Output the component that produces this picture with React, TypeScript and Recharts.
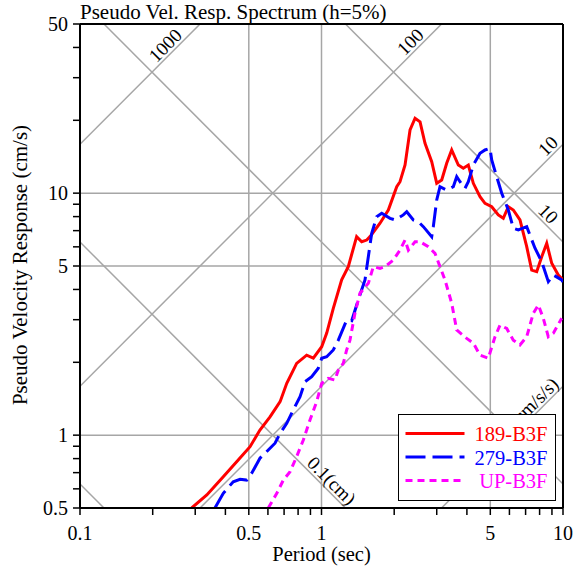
import React from "react";
import {
  LineChart,
  Line,
  XAxis,
  YAxis,
  ReferenceLine,
  ReferenceDot,
  Legend,
  Label,
} from "recharts";

const FONT = '"Liberation Serif", "Times New Roman", serif';

// axis ticks (log scales), labelled ones and grid positions
const periodTicks = [0.1, 0.2, 0.3, 0.4, 0.5, 0.6, 0.7, 0.8, 0.9, 1, 2, 3, 4, 5, 6, 7, 8, 9, 10];
const periodLabels = [0.1, 0.5, 1, 5, 10];
const velTicks = [0.5, 0.6, 0.7, 0.8, 0.9, 1, 2, 3, 4, 5, 6, 7, 8, 9, 10, 20, 30, 40, 50];
const velLabels = [0.5, 1, 5, 10, 50];
const periodGrid = [0.5, 1, 5];
const velGrid = [1, 5, 10];

// tripartite guide lines: displacement (cm) and acceleration (cm/s/s)
const dispLevels = [0.01, 0.1, 1, 10];
const accLevels = [1, 10, 100, 1000];
const dispTags = ["0.1(cm)", "10"];
const dispTagLevels = [0.1, 10];
const dispTagPeriods = [1.033, 8.15];
const accTags = ["1000", "100", "10", "1(cm/s/s)"];
const accTagLevels = [1000, 100, 10, 1];
const accTagPeriods = [0.2404, 2.486, 9.23, 9.9];

// [period (s), pseudo velocity (cm/s)]
const s189: [number, number][] = [
  [0.29, 0.5], [0.335, 0.566], [0.392, 0.673], [0.452, 0.789], [0.506, 0.896],
  [0.556, 1.05], [0.612, 1.19], [0.674, 1.375], [0.718, 1.638], [0.789, 1.98],
  [0.868, 2.14], [0.925, 2.08], [1.002, 2.32], [1.051, 2.64], [1.119, 3.34],
  [1.212, 4.38], [1.291, 4.97], [1.398, 6.61], [1.467, 6.3], [1.539, 6.4],
  [1.588, 6.61], [1.747, 7.51], [1.891, 8.52], [2.049, 10.63], [2.114, 11.15],
  [2.218, 13.07], [2.326, 18.24], [2.44, 20.4], [2.559, 19.7], [2.683, 16.07],
  [2.86, 13.49], [3.0, 10.98], [3.146, 11.33], [3.299, 13.29], [3.46, 15.08],
  [3.686, 13.07], [3.866, 12.67], [4.055, 13.07], [4.253, 10.98], [4.533, 9.67],
  [4.754, 9.08], [5.068, 8.79], [5.397, 8.13], [5.66, 7.87], [5.937, 8.79],
  [6.226, 8.52], [6.636, 7.75], [7.075, 6.01], [7.42, 4.81], [7.784, 4.74],
  [8.164, 5.46], [8.563, 6.21], [8.981, 5.13], [9.562, 4.59], [10.0, 4.38],
];

const s279: [number, number][] = [
  [0.362, 0.5], [0.392, 0.575], [0.431, 0.642], [0.46, 0.657], [0.49, 0.652],
  [0.514, 0.696], [0.556, 0.803], [0.602, 0.868], [0.642, 0.926], [0.674, 1.018],
  [0.718, 1.119], [0.764, 1.271], [0.815, 1.442], [0.855, 1.663], [0.911, 1.744],
  [0.97, 1.89], [1.002, 2.078], [1.051, 2.11], [1.119, 2.25], [1.174, 2.47],
  [1.271, 2.99], [1.334, 2.97], [1.42, 3.62], [1.514, 4.38], [1.614, 6.83],
  [1.693, 7.99], [1.776, 8.26], [1.922, 7.87], [2.016, 7.75], [2.182, 8.13],
  [2.254, 8.38], [2.4, 7.75], [2.518, 7.62], [2.64, 7.27], [2.86, 6.61],
  [2.904, 7.27], [3.0, 9.37], [3.095, 10.63], [3.299, 10.3], [3.514, 10.63],
  [3.63, 11.69], [3.746, 11.15], [3.929, 10.47], [4.055, 11.15], [4.253, 13.07],
  [4.533, 14.61], [4.754, 15.08], [4.986, 15.33], [5.068, 13.71], [5.315, 11.69],
  [5.575, 9.99], [5.937, 8.52], [6.226, 7.16], [6.53, 7.05], [7.075, 7.27],
  [7.658, 5.92], [8.164, 5.21], [8.694, 4.31], [9.119, 4.59], [9.876, 4.38],
  [10.0, 4.29],
];

const sUP: [number, number][] = [
  [0.602, 0.5], [0.653, 0.575], [0.695, 0.652], [0.741, 0.706], [0.789, 0.815],
  [0.841, 0.955], [0.896, 1.155], [0.955, 1.375], [1.002, 1.638], [1.067, 1.718],
  [1.137, 1.69], [1.174, 1.86], [1.231, 1.98], [1.271, 2.25], [1.312, 2.47],
  [1.376, 3.19], [1.443, 3.86], [1.563, 4.24], [1.639, 4.97], [1.747, 4.89],
  [1.833, 4.97], [1.983, 5.29], [2.114, 5.82], [2.218, 6.4], [2.289, 5.82],
  [2.44, 6.3], [2.559, 6.3], [2.769, 6.01], [2.951, 5.64], [3.095, 4.97],
  [3.246, 4.38], [3.46, 3.51], [3.63, 2.72], [3.993, 2.51], [4.253, 2.4],
  [4.533, 2.14], [4.906, 2.08], [5.229, 2.55], [5.485, 2.85], [5.847, 2.76],
  [6.226, 2.47], [6.636, 2.36], [7.075, 2.55], [7.534, 3.19], [7.903, 3.45],
  [8.289, 3.04], [8.694, 2.55], [9.119, 2.64], [9.876, 3.04],
];

const seriesNames = ["189-B3F", "279-B3F", "UP-B3F"];
const seriesData = [s189, s279, sUP];
const seriesColors = ["#ff0000", "#0000ff", "#ff00ff"];
const seriesDash = [undefined, "20 7", "7 5"];

const T_MIN = 0.1, T_MAX = 10, V_MIN = 0.5, V_MAX = 50;
const TWO_PI = 2 * Math.PI;

// V = 2*pi*D / T
function dispSegment(d: number) {
  const c = TWO_PI * d;
  const t1 = Math.max(T_MIN, c / V_MAX);
  const t2 = Math.min(T_MAX, c / V_MIN);
  return [{ x: t1, y: c / t1 }, { x: t2, y: c / t2 }];
}

// V = A * T / (2*pi)
function accSegment(a: number) {
  const c = a / TWO_PI;
  const t1 = Math.max(T_MIN, V_MIN / c);
  const t2 = Math.min(T_MAX, V_MAX / c);
  return [{ x: t1, y: c * t1 }, { x: t2, y: c * t2 }];
}

function tagShape(text: string, angle: number, anchor: string) {
  return (p: any) => (
    <text
      x={p.cx}
      y={p.cy}
      dy={-3}
      textAnchor={anchor}
      transform={`rotate(${angle} ${p.cx} ${p.cy})`}
      fontSize={19}
      fontFamily={FONT}
      fill="#000"
    >
      {text}
    </text>
  );
}

function LegendBox() {
  return (
    <div
      style={{
        width: 158,
        height: 87,
        boxSizing: "border-box",
        border: "1.5px solid #000",
        background: "#fff",
      }}
    >
      <svg width={155} height={84} style={{ display: "block" }}>
        {seriesNames.map((name, i) => (
          <g key={name}>
            <line
              x1={6.5}
              x2={65.5}
              y1={18.5 + 23.5 * i}
              y2={18.5 + 23.5 * i}
              stroke={seriesColors[i]}
              strokeWidth={3}
              strokeDasharray={seriesDash[i]}
            />
            <text
              x={148.5}
              y={26 + 23.5 * i}
              textAnchor="end"
              fill={seriesColors[i]}
              fontSize={20.5}
              fontFamily={FONT}
            >
              {name}
            </text>
          </g>
        ))}
      </svg>
    </div>
  );
}

export default function App() {
  const tickStyle = { fontSize: 20, fontFamily: FONT, fill: "#000" };
  return (
    <div style={{ position: "absolute", left: 0, top: 0 }}>
      <LineChart
        width={577}
        height={576}
        margin={{ top: 24, right: 14, bottom: 0, left: 0 }}
        style={{ fontFamily: FONT }}
      >
        <XAxis
          dataKey="t"
          type="number"
          scale="log"
          domain={[T_MIN, T_MAX]}
          allowDataOverflow
          ticks={periodTicks}
          interval={0}
          tickFormatter={(v: number) => (periodLabels.includes(v) ? String(v) : "")}
          tick={tickStyle}
          tickSize={7}
          tickMargin={11}
          height={68}
          axisLine={{ stroke: "#000", strokeWidth: 2 }}
          tickLine={{ stroke: "#000", strokeWidth: 1.5 }}
        >
          <Label
            content={() => (
              <text x={321.5} y={561} textAnchor="middle" fontSize={20.5} fontFamily={FONT} fill="#000">
                Period (sec)
              </text>
            )}
          />
        </XAxis>
        <YAxis
          dataKey="v"
          type="number"
          scale="log"
          domain={[V_MIN, V_MAX]}
          allowDataOverflow
          ticks={velTicks}
          interval={0}
          tickFormatter={(v: number) => (velLabels.includes(v) ? String(v) : "")}
          tick={tickStyle}
          tickSize={7}
          tickMargin={5}
          width={80}
          axisLine={{ stroke: "#000", strokeWidth: 2 }}
          tickLine={{ stroke: "#000", strokeWidth: 1.5 }}
        >
          <Label
            content={() => (
              <g>
                <text x={80} y={19} fontSize={21} fontFamily={FONT} fill="#000">
                  Pseudo Vel. Resp. Spectrum (h=5%)
                </text>
                <text
                  x={27}
                  y={265}
                  textAnchor="middle"
                  transform="rotate(-90 27 265)"
                  fontSize={21}
                  fontFamily={FONT}
                  fill="#000"
                >
                  Pseudo Velocity Response (cm/s)
                </text>
              </g>
            )}
          />
        </YAxis>

        {periodGrid.map((t) => (
          <ReferenceLine key={"gx" + t} x={t} stroke="#a6a6a6" strokeWidth={1.5} />
        ))}
        {velGrid.map((v) => (
          <ReferenceLine key={"gy" + v} y={v} stroke="#a6a6a6" strokeWidth={1.5} />
        ))}
        {dispLevels.map((d) => (
          <ReferenceLine
            key={"d" + d}
            segment={dispSegment(d)}
            stroke="#a6a6a6"
            strokeWidth={1.5}
            ifOverflow="hidden"
          />
        ))}
        {accLevels.map((a) => (
          <ReferenceLine
            key={"a" + a}
            segment={accSegment(a)}
            stroke="#a6a6a6"
            strokeWidth={1.5}
            ifOverflow="hidden"
          />
        ))}
        {dispTags.map((txt, i) => (
          <ReferenceDot
            key={"dt" + i}
            x={dispTagPeriods[i]}
            y={(TWO_PI * dispTagLevels[i]) / dispTagPeriods[i]}
            r={1}
            shape={tagShape(txt, 45, "middle")}
          />
        ))}
        {accTags.map((txt, i) => (
          <ReferenceDot
            key={"at" + i}
            x={accTagPeriods[i]}
            y={(accTagLevels[i] * accTagPeriods[i]) / TWO_PI}
            r={1}
            shape={tagShape(txt, -45, i === 3 ? "end" : "middle")}
          />
        ))}

        <ReferenceLine y={V_MAX} stroke="#000" strokeWidth={2} />
        <ReferenceLine x={T_MAX} stroke="#000" strokeWidth={2} />

        {seriesData.map((pts, i) => (
          <Line
            key={seriesNames[i]}
            name={seriesNames[i]}
            data={pts.map(([t, v]) => ({ t, v }))}
            dataKey="v"
            type="linear"
            stroke={seriesColors[i]}
            strokeWidth={3}
            strokeDasharray={seriesDash[i]}
            dot={false}
            activeDot={false}
            isAnimationActive={false}
          />
        ))}

        <Legend
          layout="vertical"
          align="center"
          verticalAlign="middle"
          wrapperStyle={{ left: 398, top: 414, width: 158, height: 87 }}
          content={() => <LegendBox />}
        />
      </LineChart>
    </div>
  );
}
